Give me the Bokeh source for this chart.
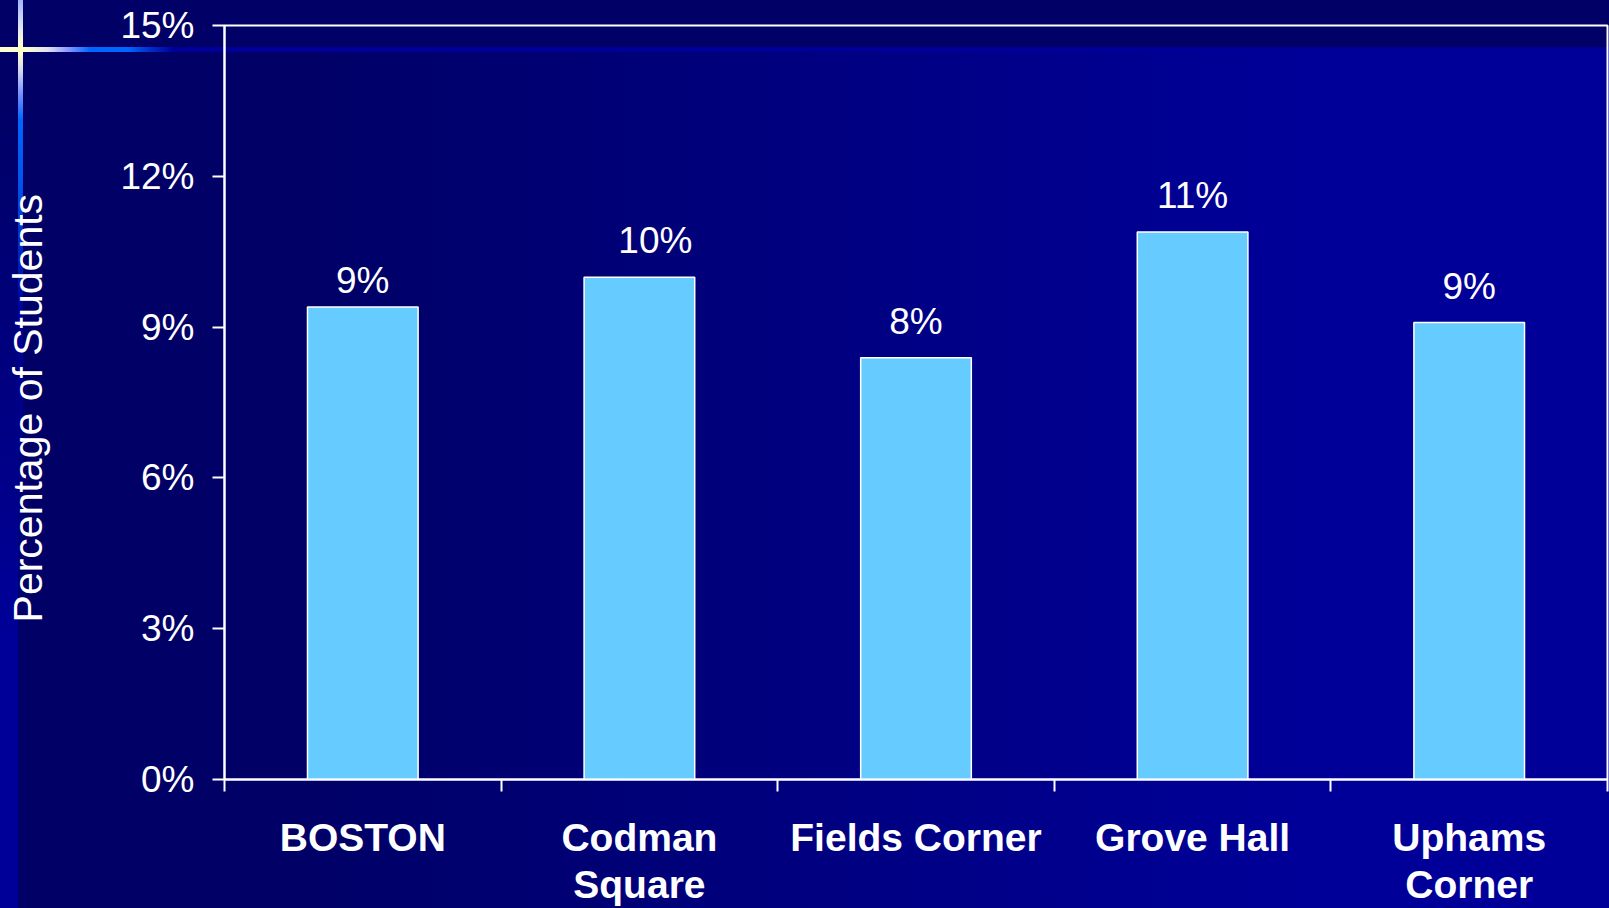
import numpy as np
from bokeh.plotting import figure
from bokeh.models import Range1d, FixedTicker, ColumnDataSource, LabelSet
from bokeh.core.properties import value
from bokeh.embed import file_html
from bokeh.resources import INLINE

# ---- data ----
categories = ["BOSTON", "Codman\nSquare", "Fields Corner", "Grove Hall", "Uphams\nCorner"]
percent_values = [9.40, 9.99, 8.39, 10.89, 9.09]
value_labels = ["9%", "10%", "8%", "11%", "9%"]
y_ticks = [0, 3, 6, 9, 12, 15]
y_tick_labels = ["0%", "3%", "6%", "9%", "12%", "15%"]
y_axis_title = "Percentage of  Students"

# label nudges (pixels), as placed in the original slide
label_dx = [0, 16, 0, 0, 0]
label_dy = [14, 24, 24, 24, 24]

FONT = "Liberation Sans"

centers = [i + 0.5 for i in range(len(categories))]
boundaries = list(range(len(categories) + 1))

src = ColumnDataSource(dict(x=centers, top=percent_values, label=value_labels,
                            dx=label_dx, dy=label_dy))

p = figure(width=1609, height=908,
           x_range=Range1d(0, len(categories)), y_range=Range1d(0, y_ticks[-1]),
           output_backend="svg", toolbar_location=None,
           min_border_left=224, min_border_right=2, min_border_top=25, min_border_bottom=128)

p.background_fill_color = None
p.border_fill_color = None
p.outline_line_color = "white"
p.outline_line_width = 2
p.xgrid.grid_line_color = None
p.ygrid.grid_line_color = None

p.styles = {
    "background": ", ".join([
        "linear-gradient(to bottom, #a0b4ff 0px, #e8e8f0 30px, #ffffcc 45px, #ffffcc 53px, #d8d8ee 70px, #6f8fff 95px, #0066ff 120px, #0055ee 180px, #000099 310px, #000066 650px, #000066 100%) 18px 0 / 5px 100% no-repeat",
        "linear-gradient(to right, #ffffcc 0px, #ffffcc 25px, #e0e0f0 48px, #8899ff 68px, #0066ff 90px, #0066ff 128px, #0033cc 148px, #000099 173px, #000099 100%) 0 47px / 100% 5px no-repeat",
        "linear-gradient(#000066, #000066) 0 0 / 100% 52px no-repeat",
        "linear-gradient(to bottom, #000066 0px, #000066 100px, #000099 650px, #000099 100%) 0 0 / 18px 100% no-repeat",
        "linear-gradient(to right, #000066 0%, #000066 18%, #000099 82%, #000099 100%)",
    ])
}

# bars
p.vbar(x="x", top="top", width=0.4, bottom=0, source=src,
       fill_color="#66ccff", line_color="white", line_width=1.5)

labels = LabelSet(x="x", y="top", text="label", source=src,
                  x_offset="dx", y_offset="dy",
                  text_align="center", text_baseline="alphabetic",
                  text_font=value(FONT), text_font_size="37px", text_color="white")
p.add_layout(labels)

# y axis
ya = p.yaxis[0]
ya.ticker = FixedTicker(ticks=y_ticks)
ya.major_label_overrides = dict(zip(y_ticks, y_tick_labels))
ya.axis_line_color = "white"
ya.axis_line_width = 2
ya.major_tick_line_color = "white"
ya.major_tick_line_width = 2
ya.major_tick_out = 12
ya.major_tick_in = 0
ya.minor_tick_line_color = None
ya.major_label_text_color = "white"
ya.major_label_text_font = FONT
ya.major_label_text_font_size = "37px"
ya.major_label_standoff = 18
ya.axis_label = y_axis_title
ya.axis_label_text_font = FONT
ya.axis_label_text_font_size = "41px"
ya.axis_label_text_font_style = "normal"
ya.axis_label_text_color = "white"
ya.axis_label_standoff = 66

# x axis
xa = p.xaxis[0]
xa.ticker = FixedTicker(ticks=centers, minor_ticks=boundaries)
xa.major_label_overrides = dict(zip(centers, categories))
xa.axis_line_color = "white"
xa.axis_line_width = 2
xa.major_tick_line_color = None
xa.major_tick_out = 0
xa.major_tick_in = 0
xa.minor_tick_line_color = "white"
xa.minor_tick_line_width = 2
xa.minor_tick_out = 12
xa.minor_tick_in = 0
xa.major_label_text_color = "white"
xa.major_label_text_font = FONT
xa.major_label_text_font_size = "39px"
xa.major_label_text_font_style = "bold"
xa.major_label_text_line_height = 1.1
xa.major_label_standoff = 24

html = file_html(p, INLINE)
html = html.replace(
    "<body>",
    '<body style="background: linear-gradient(to right, #000099 0px, #000099 18px, #000066 18px, #000066 18%, #000099 82%, #000099 100%);">',
    1,
)
open("out.html", "w").write(html)
